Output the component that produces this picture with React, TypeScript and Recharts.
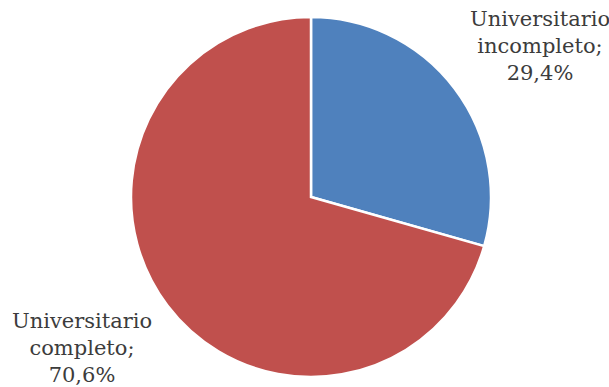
import React from 'react';
import { PieChart, Pie, Cell } from 'recharts';

const categories = ['Universitario incompleto', 'Universitario completo'];
const labelLines = [
  ['Universitario', 'incompleto;'],
  ['Universitario', 'completo;'],
];
const shares = [29.4, 70.6];
const colors = ['#4F81BD', '#C0504D'];

const data = categories.map((name, i) => ({ name, value: shares[i] }));

const RADIAN = Math.PI / 180;

function renderLabel(props: any) {
  const { cx, cy, midAngle, index } = props;
  const cos = Math.cos(-midAngle * RADIAN);
  const sin = Math.sin(-midAngle * RADIAN);
  const x = cx + (cos >= 0 ? 1 : -1) * 229;
  const y = cy + sin * 250;
  const pct = shares[index].toFixed(1).replace('.', ',') + '%';
  const lines = [...labelLines[index], pct];
  return (
    <text
      x={x}
      y={y}
      textAnchor="middle"
      fill="#3c3c3c"
      fontFamily="'DejaVu Serif', serif"
      fontSize={21}
    >
      {lines.map((l, i) => (
        <tspan key={i} x={x} y={y + (i - 1) * 27} dominantBaseline="central">
          {l}
        </tspan>
      ))}
    </text>
  );
}

export default function App() {
  return (
    <div style={{ width: 609, height: 387, background: '#fff' }}>
      <style>{`body{margin:0}`}</style>
      <PieChart width={609} height={387} margin={{ top: 0, right: 0, bottom: 0, left: 0 }}>
        <Pie
          data={data}
          dataKey="value"
          nameKey="name"
          cx={311}
          cy={197}
          outerRadius={180}
          startAngle={90}
          endAngle={-270}
          stroke="#fff"
          strokeWidth={2.5}
          label={renderLabel}
          labelLine={false}
          isAnimationActive={false}
        >
          {data.map((d, i) => (
            <Cell key={d.name} fill={colors[i]} />
          ))}
        </Pie>
      </PieChart>
    </div>
  );
}
